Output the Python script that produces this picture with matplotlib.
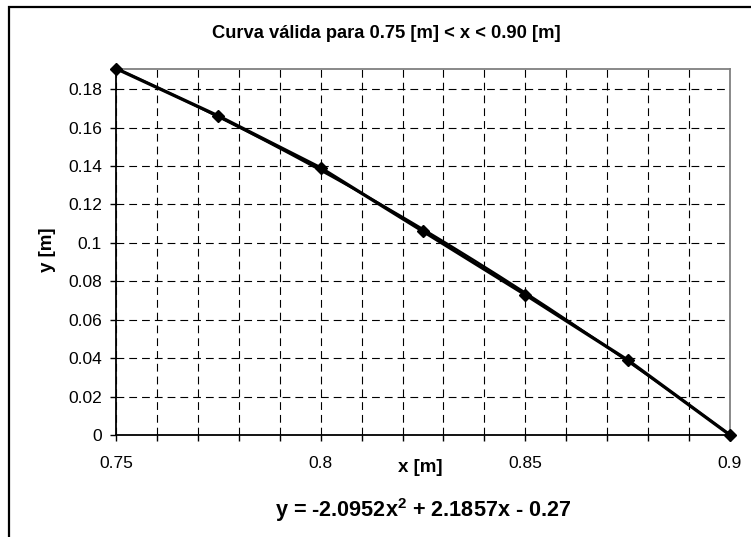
import numpy as np
import matplotlib
matplotlib.use("Agg")
import matplotlib.pyplot as plt
from matplotlib.patches import Rectangle
from matplotlib.ticker import MultipleLocator

plt.rcParams['font.family'] = ['Liberation Sans', 'DejaVu Sans']
plt.rcParams['mathtext.fontset'] = 'custom'
plt.rcParams['mathtext.bf'] = 'Liberation Sans:bold'
plt.rcParams['mathtext.rm'] = 'Liberation Sans'

# Data
x_vals = [0.75, 0.775, 0.80, 0.825, 0.85, 0.875, 0.90]
y_vals = [0.1907, 0.166, 0.139, 0.106, 0.073, 0.039, 0.0]
# Trendline coefficients as displayed (a x^2 + b x + c)
trend_coef = [-2.0952, 2.1857, -0.27]

title = "Curva válida para 0.75 [m] < x < 0.90 [m]"
xlabel = "x [m]"
ylabel = "y [m]"
eq_text = r"y = -2.0952x$^{\mathbf{2}}$ + 2.1857x - 0.27"

W, H = 751, 537
fig = plt.figure(figsize=(W / 100, H / 100), dpi=100)

# outer chart-area border (extends off right/bottom edge)
fig.patches.append(Rectangle((9 / W, -0.1), 1.2, 1 - 6.5 / H + 0.1,
                             transform=fig.transFigure, fill=False,
                             edgecolor='black', linewidth=1.6, zorder=0))

ax = fig.add_axes([116 / W, 1 - 435 / H, (730 - 116) / W, (435 - 68.5) / H])

ax.set_xlim(0.75, 0.90)
ax.set_ylim(0, 0.1907)

ax.xaxis.set_minor_locator(MultipleLocator(0.01))

ax.set_xticks([0.75, 0.80, 0.85, 0.90])
ax.set_xticklabels(['0.75', '0.8', '0.85', '0.9'])
ax.set_yticks(np.arange(0, 0.19, 0.02))
ax.set_yticklabels(['0', '0.02', '0.04', '0.06', '0.08', '0.1', '0.12',
                    '0.14', '0.16', '0.18'])

dash = (0, (7, 4.5))
ax.grid(True, which='both', axis='x', color='black', linestyle=dash, linewidth=0.8)
ax.grid(True, which='major', axis='y', color='black', linestyle=dash, linewidth=0.8)
ax.set_axisbelow(True)

ax.tick_params(axis='both', which='both', direction='out', length=4, width=1,
               color='black', labelsize=12.5)
ax.tick_params(axis='x', which='major', pad=11)
ax.tick_params(axis='y', which='major', pad=6)

for s in ['left', 'bottom']:
    ax.spines[s].set_color('black')
    ax.spines[s].set_linewidth(1.3)
for s in ['top', 'right']:
    ax.spines[s].set_color('#808080')
    ax.spines[s].set_linewidth(1.3)

# trendline
xt = np.linspace(0.75, 0.90, 200)
yt = np.polyval(trend_coef, xt)
ax.plot(xt, yt, color='black', linewidth=1.6, zorder=3, clip_on=False)

# data series
ax.plot(x_vals, y_vals, color='black', linewidth=2.4, marker='D',
        markersize=6, zorder=4, clip_on=False)

fig.text(386 / W, 1 - 33 / H, title, ha='center', va='center',
         fontsize=13.2, fontweight='bold')
fig.text(420 / W, 1 - 468 / H, xlabel, ha='center', va='center',
         fontsize=13.5, fontweight='bold')
fig.text(47 / W, 1 - 250 / H, ylabel, ha='center', va='center',
         fontsize=13.5, fontweight='bold', rotation=90)
fig.text(423 / W, 1 - 510 / H, eq_text, ha='center', va='center',
         fontsize=15.6, fontweight='bold')

fig.savefig('out.png', dpi=100)
